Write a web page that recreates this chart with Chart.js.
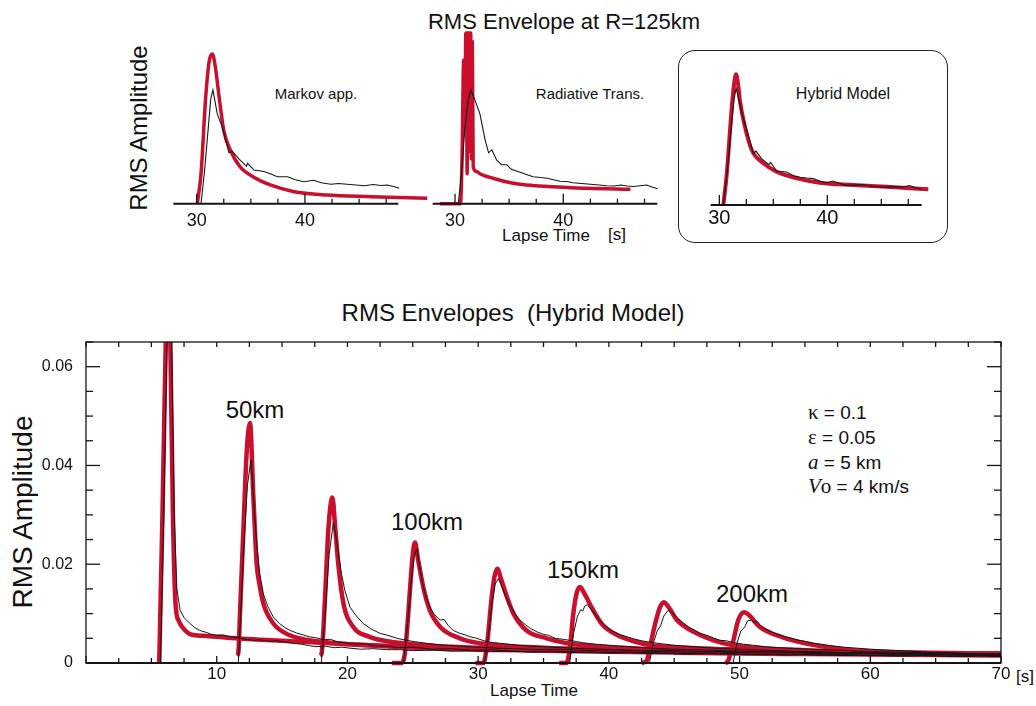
<!DOCTYPE html>
<html>
<head>
<meta charset="utf-8">
<script src="https://cdn.jsdelivr.net/npm/chart.js@4.4.1/dist/chart.umd.min.js"></script>
<style>
  html, body { margin: 0; padding: 0; background: #fff; }
  body { width: 1036px; height: 706px; position: relative; overflow: hidden;
         font-family: 'Liberation Sans', Arial, Helvetica, sans-serif; color: #111; }
  canvas { position: absolute; }
  .t { position: absolute; white-space: pre; line-height: 1; transform: translate(-50%, -50%); }
  .rot { transform: translate(-50%, -50%) rotate(-90deg); }
  .p { position: absolute; white-space: pre; line-height: 1; transform: translateY(-50%); font-size: 19px; }
  .s { font-family: 'Liberation Serif', 'Times New Roman', serif; font-size: 21px; }
  .box { position: absolute; left: 678px; top: 50px; width: 268px; height: 191px;
         border: 1.5px solid #222; border-radius: 17px; }
</style>
</head>
<body>
<div class="t" style="left:564px;top:22px;font-size:22px">RMS Envelope at R=125km</div>
<div class="t rot" style="left:139px;top:128px;font-size:24px">RMS Amplitude</div>
<div class="t" style="left:316px;top:93px;font-size:15px">Markov app.</div>
<div class="t" style="left:590px;top:93px;font-size:15px">Radiative Trans.</div>
<div class="t" style="left:843px;top:94px;font-size:16px">Hybrid Model</div>
<div class="t" style="left:546px;top:235px;font-size:17px">Lapse Time</div>
<div class="t" style="left:617px;top:234px;font-size:17px">[s]</div>
<div class="box"></div>

<div class="t" style="left:513px;top:313px;font-size:24px">RMS Envelopes  (Hybrid Model)</div>
<div class="t rot" style="left:23px;top:512px;font-size:28px">RMS Amplitude</div>
<div class="t" style="left:534px;top:690px;font-size:17px">Lapse Time</div>
<div class="t" style="left:1025px;top:676px;font-size:17px">[s]</div>
<div class="t" style="left:255px;top:410px;font-size:24px">50km</div>
<div class="t" style="left:427px;top:522px;font-size:24px">100km</div>
<div class="t" style="left:583px;top:570px;font-size:24px">150km</div>
<div class="t" style="left:752px;top:594px;font-size:24px">200km</div>
<div class="p" style="left:808px;top:412px"><span class="s">κ</span> = 0.1</div>
<div class="p" style="left:808px;top:437px"><span class="s">ε</span> = 0.05</div>
<div class="p" style="left:808px;top:462px"><span class="s"><i>a</i></span> = 5 km</div>
<div class="p" style="left:808px;top:486px"><span class="s"><i>V</i>o</span> = 4 km/s</div>

<canvas id="pMarkov" width="280" height="250" style="left:150px;top:0px"></canvas>
<canvas id="pRad" width="240" height="250" style="left:430px;top:0px"></canvas>
<canvas id="pHybrid" width="245" height="200" style="left:700px;top:40px"></canvas>
<canvas id="main" width="1036" height="376" style="left:0px;top:330px"></canvas>

<script>
// ---- top row: envelopes at R = 125 km, [lapse time s, amplitude (peak of Markov = 1)]
const panelXLabels = [30, 40];

const markovRed = [[30.06,0],[30.4,0.2],[30.83,0.71],[31.15,0.95],[31.45,1],[31.75,0.9],[32.06,0.72],[32.5,0.49],
  [33.1,0.36],[34,0.247],[35.2,0.18],[36.8,0.125],[39,0.08],[42,0.058],[46.1,0.047],[51.3,0.036]];
const markovObs = [[30.4,0],[30.7,0.2],[31.05,0.49],[31.3,0.7],[31.5,0.76],[31.7,0.68],[31.9,0.6],[32.37,0.51],
  [32.98,0.34],[33.3,0.35],[33.9,0.3],[34.6,0.25],[34.7,0.27],[35.3,0.225],[36.2,0.215],[36.8,0.2],[37.45,0.18],
  [38.4,0.18],[39.1,0.16],[39.9,0.147],[40.8,0.157],[41.5,0.14],[42.4,0.13],[43.1,0.135],[43.9,0.13],[44.7,0.125],
  [45.5,0.12],[46.3,0.128],[47,0.122],[47.6,0.125],[48.2,0.115],[48.7,0.103]];

const radRed = [[28.6,0],[30.5,0],[30.65,0.3],[30.8,0.96],[30.9,0.5],[31,1.14],[31.05,1.14],[31.12,0.2],[31.2,1.14],
  [31.25,1.14],[31.32,0.35],[31.4,1.14],[31.45,1.14],[31.52,0.3],[31.6,1.08],[31.68,0.247],[32,0.215],[32.3,0.2],
  [32.8,0.185],[33.5,0.17],[34.5,0.15],[36,0.13],[37.5,0.12],[39.1,0.114],[42.2,0.103],[46.2,0.096]];
const radObs = [[30.3,0],[30.6,0.2],[30.9,0.49],[31.2,0.68],[31.45,0.76],[31.85,0.69],[32.3,0.6],[32.77,0.43],
  [33.1,0.34],[33.4,0.36],[33.85,0.29],[34.3,0.26],[34.8,0.26],[35.2,0.23],[36,0.21],[36.6,0.195],[37.2,0.18],
  [37.9,0.175],[38.5,0.17],[39.1,0.16],[39.7,0.15],[40.3,0.148],[40.9,0.14],[41.7,0.135],[42.5,0.13],[43.3,0.125],
  [44,0.12],[44.7,0.118],[45.3,0.125],[45.9,0.118],[46.5,0.115],[47.1,0.12],[47.7,0.125],[48.2,0.112],[48.7,0.1]];

const hybridRed = [[30.37,0],[30.69,0.21],[31.15,0.65],[31.35,0.8],[31.55,0.873],[31.75,0.8],[31.9,0.7],[32.38,0.52],
  [33,0.367],[34.07,0.28],[35.3,0.222],[37.2,0.178],[39.3,0.149],[42.4,0.134],[45.5,0.122],[49.35,0.105]];
const hybridObs = [[30.37,0],[30.7,0.2],[30.95,0.4],[31.15,0.546],[31.35,0.7],[31.55,0.78],[31.85,0.69],[32.25,0.57],
  [32.7,0.46],[33.15,0.345],[33.4,0.36],[33.9,0.31],[34.6,0.27],[34.75,0.285],[35.3,0.227],[36.2,0.22],[36.9,0.195],
  [37.5,0.185],[38.1,0.18],[38.7,0.176],[39.3,0.16],[39.9,0.147],[40.5,0.16],[41.1,0.145],[41.7,0.131],[42.5,0.133],
  [43.3,0.135],[44.2,0.125],[45.1,0.12],[46,0.122],[47,0.12],[47.6,0.13],[48.2,0.115],[48.7,0.105]];

// ---- bottom: hybrid model envelopes for R = 25 ... 200 km
const mainXLabels = [10, 20, 30, 40, 50, 60, 70];
const mainYLabels = [0, 0.02, 0.04, 0.06];

const red25 = [[5.6,0],[5.85,0.03],[6.1,0.065],[6.3,0.085],[6.45,0.065],[6.65,0.03],[6.85,0.012],[7.1,0.0085],
  [7.45,0.007],[8,0.0058],[9,0.0055],[10,0.0053],[12,0.0049],[15,0.0045],[20,0.0038],[24,0.0034],[30,0.003],
  [35,0.0028],[40,0.0026],[45,0.0024],[50,0.0022],[55,0.0021],[60,0.0019],[65,0.0018],[70,0.0017]];
const obs25 = [[5.7,0],[5.95,0.03],[6.2,0.065],[6.35,0.08],[6.55,0.065],[6.75,0.03],[6.95,0.015],[7.2,0.0107],
  [7.5,0.0092],[7.95,0.008],[8.3,0.0072],[8.7,0.0066],[9.2,0.0062],[9.6,0.0058],[10,0.0056],[10.5,0.0057],[11,0.0053],
  [11.6,0.0052],[12.2,0.0048],[12.8,0.0046],[13.3,0.0047],[14,0.0044],[14.6,0.0045],[15.1,0.0043],[15.8,0.004],
  [16.5,0.0038],[17.1,0.0035],[17.6,0.0033],[18.3,0.0034],[19,0.0031],[19.6,0.0032],[20.2,0.003],[21,0.0028],
  [22,0.0029],[23,0.0027],[24,0.0027],[25,0.0025],[26.5,0.0026],[28,0.0024],[29.5,0.0025],[31,0.0023],[32.5,0.0024],
  [34,0.0022],[35.5,0.0023],[37,0.0021],[38.5,0.0022],[40,0.002],[41.5,0.0021],[43,0.0019],[44.5,0.002],[46,0.0018],
  [47.5,0.0019],[49,0.0018],[50.5,0.0017],[52,0.0018],[53.5,0.0016],[55,0.0017],[56.5,0.0016],[58,0.0015],
  [59.5,0.0016],[61,0.0015],[62.5,0.0014],[64,0.0015],[65.5,0.0014],[67,0.0013],[68.5,0.0014],[70,0.0013]];

const red50 = [[11.55,0.0015],[11.65,0.002],[11.78,0.01],[12.04,0.027],[12.3,0.043],[12.55,0.0486],[12.8,0.034],
  [13.06,0.02],[13.3,0.0155],[13.57,0.012],[14.33,0.008],[15.6,0.0056],[17.1,0.0046],[19.2,0.004],[22,0.0035],
  [25,0.0031],[30,0.0027],[35,0.0025],[40,0.0023],[45,0.0021],[50,0.0019],[55,0.0018],[60,0.0017],[65,0.0016],[70,0.0015]];
const obs50 = [[11.65,0],[11.8,0.008],[12.05,0.022],[12.35,0.036],[12.62,0.0412],[12.85,0.032],[13.06,0.024],
  [13.3,0.018],[13.57,0.014],[13.9,0.0115],[14.33,0.0093],[14.8,0.008],[15.2,0.0072],[15.6,0.0066],[16.1,0.0061],
  [16.6,0.0057],[17.1,0.0053],[17.6,0.0051],[18.2,0.0047],[18.7,0.0048],[19.2,0.0043],[19.8,0.0041],[20.5,0.0038],
  [21.3,0.0039],[22,0.0035],[23,0.0034],[24,0.0031],[25,0.0032],[26.5,0.0028],[28,0.0029],[29.5,0.0026],[31,0.0027],
  [32.5,0.0024],[34,0.0023],[36,0.0024],[38,0.0022],[40,0.0021],[42,0.0022],[44,0.002],[46,0.0019],[48,0.002],
  [50,0.0018],[52,0.0017],[54,0.0018],[56,0.0016],[58,0.0017],[60,0.0015],[62,0.0016],[64,0.0015],[66,0.0014],
  [68,0.0015],[70,0.0014]];

const red75 = [[17.9,0.0015],[18.03,0.002],[18.28,0.013],[18.54,0.027],[18.85,0.0335],[19.05,0.028],[19.3,0.02],
  [19.7,0.012],[20.45,0.0073],[21.7,0.0053],[23.3,0.0043],[25,0.0038],[27,0.0034],[30,0.0031],[35,0.0027],
  [40,0.0025],[45,0.0023],[50,0.0021],[55,0.002],[60,0.0018],[65,0.0017],[70,0.0016]];
const obs75 = [[18,0],[18.3,0.01],[18.6,0.022],[18.93,0.0285],[19.1,0.026],[19.3,0.0225],[19.55,0.018],[19.8,0.0147],
  [20.2,0.0113],[20.6,0.0098],[21.2,0.008],[21.8,0.0069],[22.5,0.006],[23.1,0.0056],[23.8,0.005],[24.5,0.0046],
  [25.2,0.0043],[26,0.004],[27,0.0037],[28,0.0035],[29,0.0033],[30,0.0032],[31.5,0.003],[33,0.0029],[34.5,0.0027],
  [36,0.0028],[38,0.0026],[40,0.0024],[42,0.0025],[44,0.0023],[46,0.0022],[48,0.0023],[50,0.0021],[52,0.002],
  [54,0.0021],[56,0.0019],[58,0.0018],[60,0.0019],[62,0.0017],[64,0.0018],[66,0.0016],[68,0.0017],[70,0.0016]];

const red100 = [[23.4,0],[24.1,0],[24.4,0.002],[24.6,0.008],[24.8,0.0154],[25,0.022],[25.17,0.0244],[25.4,0.021],
  [25.8,0.0154],[26.3,0.0107],[27.1,0.0073],[28.6,0.005],[30.1,0.004],[32,0.0035],[35,0.0031],[40,0.0027],
  [45,0.0024],[50,0.0022],[55,0.002],[60,0.0019],[65,0.0018],[70,0.0017]];
const obs100 = [[24.3,0],[24.6,0.008],[24.9,0.017],[25.1,0.0215],[25.3,0.0231],[25.5,0.02],[25.75,0.016],[26,0.0135],
  [26.3,0.0113],[26.6,0.01],[27.1,0.0087],[27.4,0.0088],[27.7,0.0076],[28.1,0.0066],[28.6,0.006],[29,0.0057],
  [29.4,0.0053],[29.9,0.005],[30.66,0.0043],[31.3,0.0041],[32,0.0039],[33,0.0036],[34,0.0034],[35,0.0033],
  [36.5,0.0031],[38,0.0029],[39.5,0.0028],[41,0.0027],[42.5,0.0025],[44,0.0026],[46,0.0024],[48,0.0023],[50,0.0022],
  [52,0.0023],[54,0.0021],[56,0.002],[58,0.0021],[60,0.0019],[62,0.0018],[64,0.0019],[66,0.0017],[68,0.0016],[70,0.0015]];

const red125 = [[29.8,0],[30.4,0],[30.66,0.0033],[31.04,0.0134],[31.25,0.0175],[31.47,0.0191],[31.75,0.017],
  [32.2,0.0134],[32.7,0.01],[33.7,0.0066],[35.25,0.005],[36.8,0.004],[38.5,0.0035],[40,0.0032],[45,0.0027],
  [50,0.0024],[55,0.0022],[60,0.002],[65,0.0019],[70,0.0018]];
const obs125 = [[30.5,0],[30.8,0.006],[31.05,0.012],[31.3,0.016],[31.55,0.0171],[31.8,0.0155],[32.1,0.0135],
  [32.4,0.0118],[32.8,0.01],[33.2,0.0087],[33.6,0.0078],[34,0.007],[34.5,0.0063],[35,0.0058],[35.4,0.0056],
  [35.9,0.005],[36.5,0.0048],[37.2,0.0045],[38,0.0041],[39,0.0038],[40,0.0036],[41,0.0034],[42.5,0.0031],[44,0.0029],
  [46,0.0027],[48,0.0026],[50,0.0024],[52,0.0023],[54,0.0022],[56,0.0021],[58,0.002],[60,0.0019],[62,0.002],
  [64,0.0018],[66,0.0017],[68,0.0018],[70,0.0017]];

const red150 = [[36.2,0],[36.75,0],[37.03,0.0033],[37.28,0.01],[37.54,0.0142],[37.8,0.0154],[38.1,0.0142],
  [38.8,0.0107],[39.5,0.0078],[40.6,0.0057],[41.9,0.0044],[43.2,0.0036],[45,0.0032],[50,0.0027],[55,0.0024],
  [60,0.0021],[65,0.002],[70,0.0019]];
const obs150 = [[37,0],[37.3,0.006],[37.6,0.0095],[37.85,0.0108],[38,0.0105],[38.15,0.0115],[38.35,0.0118],
  [38.6,0.011],[38.9,0.01],[39.2,0.0089],[39.5,0.008],[39.9,0.0071],[40.3,0.0064],[40.8,0.0058],[41.4,0.0053],
  [41.9,0.0049],[42.5,0.0045],[43.2,0.0042],[44,0.0039],[45,0.0036],[46,0.0034],[47.5,0.0031],[49,0.0029],
  [50.5,0.0027],[52,0.0026],[54,0.0024],[56,0.0023],[58,0.0021],[60,0.0022],[62,0.002],[64,0.0019],[66,0.0018],
  [68,0.0019],[70,0.0018]];

const red175 = [[42.5,0],[42.9,0.0005],[43.15,0.0033],[43.5,0.0075],[43.9,0.0112],[44.2,0.0123],[44.6,0.0112],
  [45.2,0.0087],[46.5,0.0063],[48,0.0046],[49.5,0.0036],[51,0.0031],[53,0.0028],[55,0.0026],[60,0.0022],
  [65,0.002],[70,0.0019]];
const obs175 = [[43.1,0],[43.4,0.004],[43.7,0.0065],[43.95,0.0075],[44.2,0.0095],[44.55,0.0107],[44.9,0.01],
  [45.3,0.009],[45.7,0.0081],[46.2,0.0071],[46.6,0.0066],[47,0.006],[47.5,0.0056],[48,0.0051],[48.5,0.0046],
  [49,0.0045],[49.6,0.0041],[50.3,0.0038],[51,0.0036],[52,0.0033],[53,0.0031],[54.5,0.0029],[56,0.0027],
  [57.5,0.0026],[59,0.0024],[60.5,0.0023],[62,0.0022],[64,0.0021],[66,0.002],[68,0.0019],[70,0.0019]];

const red200 = [[48.9,0],[49.1,0.0003],[49.53,0.0046],[49.9,0.0087],[50.35,0.0103],[50.8,0.0095],[51.5,0.0074],
  [53.3,0.0052],[55.6,0.0037],[58.2,0.0027],[63.3,0.0021],[68.4,0.0018],[70,0.0017]];
const obs200 = [[49.5,0],[49.8,0.004],[50.1,0.0065],[50.4,0.0073],[50.6,0.0085],[50.9,0.0087],[51.1,0.0082],
  [51.35,0.0084],[51.6,0.0076],[52,0.0069],[52.5,0.0062],[53,0.0057],[53.5,0.0053],[54,0.005],[54.5,0.0046],
  [55,0.0044],[55.6,0.004],[56.2,0.0038],[57,0.0035],[58,0.0032],[59,0.003],[60,0.0028],[61.5,0.0026],[63,0.0024],
  [64.5,0.0022],[66,0.0021],[67.5,0.0019],[69,0.0018],[70,0.0017]];

const synthetic = [red25, red50, red75, red100, red125, red150, red175, red200];
const observed = [obs25, obs50, obs75, obs100, obs125, obs150, obs175, obs200];

const RED = '#c8102e';
const INK = '#151515';
Chart.defaults.font.family = "'Liberation Sans', Arial, Helvetica, sans-serif";
Chart.defaults.color = '#111';

function toXY(pairs) { return pairs.map(p => ({ x: p[0], y: p[1] })); }

function redSet(pairs, width, clip) {
  return { data: toXY(pairs), showLine: true, borderColor: RED, borderWidth: width, pointRadius: 0,
           cubicInterpolationMode: 'monotone', order: 2, clip: clip };
}
function obsSet(pairs, width, clip) {
  return { data: toXY(pairs), showLine: true, borderColor: INK, borderWidth: width, pointRadius: 0,
           tension: 0, order: 1, clip: clip };
}
function isMult(v, step) { return Math.abs(v / step - Math.round(v / step)) < 1e-6; }

// inward tick marks (and frame for the big plot), drawn from the chart's own scales
const innerTicks = {
  id: 'innerTicks',
  afterDatasetsDraw(chart, args, o) {
    const { ctx, chartArea: ca } = chart;
    const xs = chart.scales.x, ys = chart.scales.y;
    const seg = (x1, y1, x2, y2) => { ctx.beginPath(); ctx.moveTo(x1, y1); ctx.lineTo(x2, y2); ctx.stroke(); };
    ctx.save();
    ctx.strokeStyle = INK;
    if (o.frame) {
      ctx.lineWidth = o.frameWidth;
      ctx.strokeRect(ca.left, ca.top, ca.right - ca.left, ca.bottom - ca.top);
    }
    ctx.lineWidth = o.axisWidth;
    seg(ca.left, ca.bottom, ca.right, ca.bottom);
    ctx.lineWidth = o.tickWidth;
    const first = Math.ceil(xs.min / o.xStep - 1e-6);
    for (let i = first; i * o.xStep <= xs.max + 1e-6; i++) {
      const v = i * o.xStep;
      const px = xs.getPixelForValue(v);
      const len = isMult(v, o.xMajor) ? o.xMajorLen : o.xMinorLen;
      seg(px, ca.bottom, px, ca.bottom - len);
      if (o.frame) seg(px, ca.top, px, ca.top + o.topLen);
    }
    if (o.frame) {
      for (let i = 0; i * o.yStep <= ys.max + 1e-9; i++) {
        const v = i * o.yStep;
        const py = ys.getPixelForValue(v);
        const len = isMult(v, o.yMajor) ? o.yMajorLen : o.yMinorLen;
        seg(ca.left, py, ca.left + len, py);
        seg(ca.right, py, ca.right - len, py);
      }
    }
    ctx.restore();
  }
};

function panel(id, red, obs, cfg) {
  new Chart(document.getElementById(id), {
    type: 'scatter',
    data: { datasets: [obsSet(obs, 1.1, false), redSet(red, cfg.redWidth, false)] },
    options: {
      responsive: false, animation: false, devicePixelRatio: 1,
      layout: { padding: cfg.pad },
      plugins: { legend: { display: false }, tooltip: { enabled: false },
        innerTicks: { axisWidth: 2, tickWidth: 1.3, xStep: 2.5, xMajor: 10, xMajorLen: 10, xMinorLen: cfg.minorLen } },
      scales: {
        x: { type: 'linear', min: cfg.xMin, max: cfg.xMax,
             afterFit: s => { s.height = cfg.axisH; },
             afterBuildTicks: s => { s.ticks = panelXLabels.map(v => ({ value: v })); },
             grid: { display: false, drawTicks: false }, border: { display: false },
             ticks: { autoSkip: false, maxRotation: 0, padding: cfg.labelPad, font: { size: cfg.tickFont }, color: '#111',
                      callback: v => String(v) } },
        y: { type: 'linear', display: false, min: 0, max: cfg.yMax }
      }
    },
    plugins: [innerTicks]
  });
}

panel('pMarkov', markovRed, markovObs,
  { pad: { left: 23.3, right: 31.7, top: 36, bottom: 0 }, axisH: 46.3, xMin: 27.84, xMax: 48.62,
    yMax: 1.12, tickFont: 18, labelPad: 7, redWidth: 3.5, minorLen: 5 });
panel('pRad', radRed, radObs,
  { pad: { left: 2.7, right: 12.7, top: 36, bottom: 0 }, axisH: 46.3, xMin: 27.94, xMax: 48.68,
    yMax: 1.12, tickFont: 18, labelPad: 7, redWidth: 3.5, minorLen: 5 });
panel('pHybrid', hybridRed, hybridObs,
  { pad: { left: 10.7, right: 23.3, top: 22, bottom: 0 }, axisH: 35, xMin: 29.2, xMax: 48.74,
    yMax: 0.9553, tickFont: 20, labelPad: 1, redWidth: 4, minorLen: 6 });

const mainClip = { left: 0, top: 0, right: 0, bottom: 5 };
const mainSets = [];
observed.forEach(tr => mainSets.push(obsSet(tr, 1, mainClip)));
synthetic.forEach(tr => mainSets.push(redSet(tr, 4.5, mainClip)));

// y labels sit 13px off the axis through an invisible tick length, so the
// label padding (which Chart.js also adds above the plot) stays small
new Chart(document.getElementById('main'), {
  type: 'scatter',
  data: { datasets: mainSets },
  options: {
    responsive: false, animation: false, devicePixelRatio: 1,
    layout: { padding: { left: 0, right: 35, top: 12, bottom: 0 } },
    plugins: { legend: { display: false }, tooltip: { enabled: false },
      innerTicks: { frame: true, frameWidth: 1.3, axisWidth: 2, tickWidth: 1.3,
                    xStep: 2.5, xMajor: 10, xMajorLen: 7, xMinorLen: 5, topLen: 5,
                    yStep: 0.005, yMajor: 0.02, yMajorLen: 14, yMinorLen: 7 } },
    scales: {
      x: { type: 'linear', min: 0, max: 70,
           afterFit: s => { s.height = 43; },
           afterBuildTicks: s => { s.ticks = mainXLabels.map(v => ({ value: v })); },
           grid: { display: false, drawTicks: false }, border: { display: false },
           ticks: { autoSkip: false, maxRotation: 0, padding: 1, font: { size: 17 }, color: '#111',
                    callback: v => String(v) } },
      y: { type: 'linear', min: 0, max: 0.065,
           afterFit: s => { s.width = 86; },
           afterBuildTicks: s => { s.ticks = mainYLabels.map(v => ({ value: v })); },
           grid: { display: true, drawOnChartArea: false, drawTicks: true, tickLength: 12, color: 'rgba(0,0,0,0)' },
           border: { display: false },
           ticks: { autoSkip: false, padding: 1, font: { size: 16 }, color: '#111',
                    callback: v => v === 0 ? '0' : v.toFixed(2) } }
    }
  },
  plugins: [innerTicks]
});
</script>
</body>
</html>
